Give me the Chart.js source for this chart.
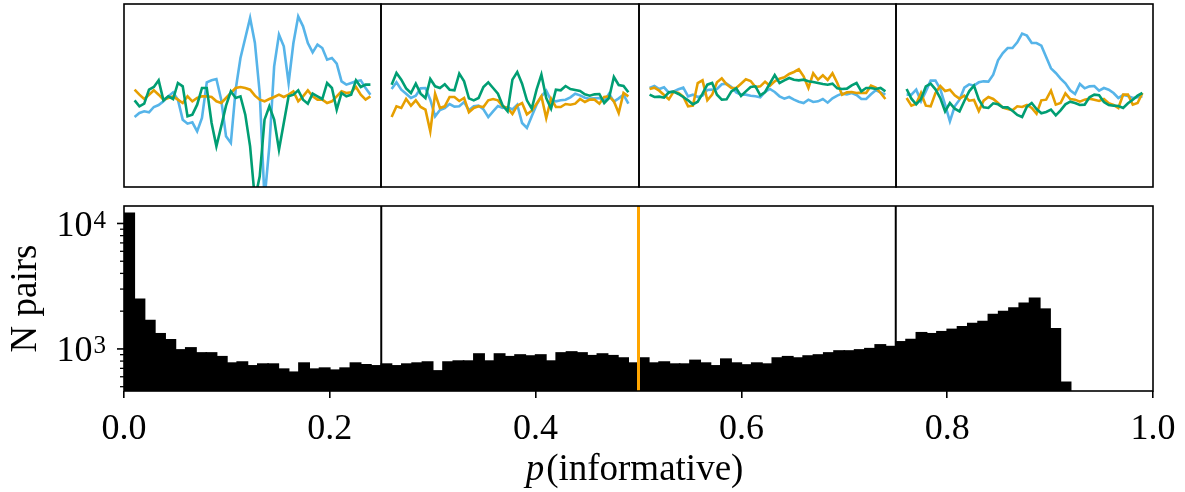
<!DOCTYPE html>
<html>
<head>
<meta charset="utf-8">
<script src="https://cdn.jsdelivr.net/npm/chart.js@4/dist/chart.umd.min.js"></script>
<style>
  html, body { margin: 0; padding: 0; background: #fff; }
  #wrap { position: relative; width: 1185px; height: 492px; overflow: hidden; background: #fff; }
  canvas { position: absolute; }
</style>
</head>
<body>
<div id="wrap">
  <canvas id="hist"></canvas>
  <canvas id="panel0"></canvas>
  <canvas id="panel1"></canvas>
  <canvas id="panel2"></canvas>
  <canvas id="panel3"></canvas>
</div>
<script>
// ---- histogram of p(informative): 0.01-wide bins starting at 0 ----
const binWidth = 0.01;
const pairCounts = [
  12030, 2485, 1683, 1321, 1182, 982, 1019, 929, 929, 867,
  771, 786, 733, 757, 757, 690, 652, 771, 690, 703,
  677, 703, 771, 747, 733, 757, 733, 757, 771, 786,
  668, 786, 800, 800, 911, 800, 911, 867, 895, 878,
  895, 800, 929, 946, 929, 883, 911, 883, 846, 771,
  846, 771, 786, 757, 757, 810, 771, 733, 829, 771,
  745, 771, 757, 846, 867, 846, 878, 895, 929, 963,
  963, 982, 1005, 1077, 1044, 1139, 1188, 1346, 1321, 1371,
  1431, 1504, 1591, 1650, 1880, 1987, 2115, 2307, 2530, 2075,
  1450, 542
];
const xTicks = [0, 0.2, 0.4, 0.6, 0.8, 1.0];
const yMajorTicks = [1000, 10000];
const yMinorTicks = [500, 600, 700, 800, 900, 2000, 3000, 4000, 5000, 6000, 7000, 8000, 9000];
const panelEdges = [0, 0.25, 0.5, 0.75, 1.0];
const thresholdMarks = [0.25, 0.75];
const midMark = 0.5;

// ---- mean traces for each quarter of p(informative), one sample per step ----
const q1Blue   = [-62,-50,-45,-48,-32,-26,-15,0,12,-10,-70,-82,-78,-105,-65,42,48,52,-10,-120,-140,20,115,175,235,160,10,-310,-150,90,185,150,40,160,240,210,160,132,155,145,110,115,98,45,35,40,45,48,25,5];
const q1Orange = [20,5,-8,5,18,5,-10,-5,0,-10,-20,0,-15,-5,0,0,-2,-15,-20,-5,10,25,28,25,20,2,-10,-15,-8,-2,5,-2,5,15,-15,0,18,0,-10,-10,-20,-15,0,15,10,12,28,5,-10,0];
const q1Green  = [-12,-30,-22,20,28,48,-12,0,-8,40,30,-60,-55,-25,25,25,-80,-150,-90,-28,15,-5,0,-55,-150,-310,-240,-70,-30,-70,-160,-80,0,5,18,-10,-22,8,0,-8,40,25,-40,10,0,5,48,28,35,35];

const q2Blue   = [22,42,20,8,-5,2,24,25,-10,-60,-41,-35,-23,-31,-30,-17,-42,-30,-28,-39,-62,-45,-29,-35,-32,-39,-25,-80,-95,-60,-25,0,17,-12,-15,-12,-10,-3,8,3,-4,-7,-6,-5,-15,8,-16,-6,5,-22];
const q2Orange = [-62,-30,-35,-8,-28,-12,-32,-40,-105,8,-35,-30,-2,-2,-14,-5,-48,-35,-30,-32,-12,-8,-12,-30,-35,-53,-28,-20,-54,-43,-22,0,-65,-7,-32,-32,-23,-25,-22,-8,-17,-10,-10,-22,-2,0,-15,-50,10,0];
const q2Green  = [35,70,50,24,10,38,8,-5,52,30,25,36,20,18,68,45,-6,-12,-5,28,42,25,8,-28,-45,50,73,38,-12,-37,20,65,-5,-37,20,18,31,22,19,16,6,2,6,7,-20,-5,58,34,31,12];

const q3Blue   = [25,31,22,27,11,15,21,26,0,5,-2,2,19,20,22,36,38,28,12,5,5,2,0,-3,13,22,13,0,-7,-2,-10,-16,-20,-10,-17,-15,-8,-19,-6,2,8,6,10,4,-8,-8,6,18,12,5];
const q3Orange = [22,26,17,4,-9,14,10,-1,-30,-28,40,48,-12,5,42,54,36,25,25,38,51,46,28,30,44,32,45,53,57,67,73,81,60,25,69,50,63,49,69,40,5,12,13,10,11,10,32,26,10,-8];
const q3Green  = [5,-2,-1,-4,12,14,7,-2,-12,-24,-16,8,35,40,5,-10,-9,15,24,1,15,28,30,3,13,39,64,40,48,55,50,48,50,45,43,40,37,35,38,24,22,23,33,40,15,25,25,22,25,15];

const q4Blue   = [5,5,20,-15,15,47,47,22,-25,-75,-30,-10,26,36,32,42,45,44,65,108,130,145,145,162,188,182,160,160,152,118,84,70,53,39,18,7,37,24,30,31,17,25,20,10,-5,4,1,-5,-3,0];
const q4Orange = [-5,-28,-22,10,-28,-30,10,31,16,20,3,-7,2,-13,-11,-44,-13,-2,-8,-20,-34,-38,-42,-30,-32,-26,-35,-52,-12,-10,17,-25,-20,9,-8,-10,-16,-10,-7,-10,-14,-8,-21,-26,-35,5,5,-25,-20,10];
const q4Green  = [22,-7,-24,-8,30,38,21,-5,-45,-20,-37,-45,-14,15,32,-9,-33,-35,-21,-24,-33,-33,-43,-56,-62,-31,-20,-38,-51,-47,-40,-57,-42,-24,-16,-20,-26,-25,-3,5,3,-17,-26,-28,-29,-35,-21,-10,2,10];

const quarterTraces = [
  [q1Blue, q1Orange, q1Green],
  [q2Blue, q2Orange, q2Green],
  [q3Blue, q3Orange, q3Green],
  [q4Blue, q4Orange, q4Green]
];

// ---- styling ----
const SERIF = "'Liberation Serif', 'DejaVu Serif', serif";
const BLUE = '#56B4E9', ORANGE = '#E69F00', GREEN = '#009E73';
const MARK_ORANGE = '#FFA500';
const W = 1185, H = 492;
const HIST_TOP = 195;           // canvas offset of the histogram
const PANEL_TOP = 4, PANEL_BOTTOM = 187;

function strokeFrame(ctx, a, lw) {
  ctx.save();
  ctx.strokeStyle = '#000';
  ctx.lineWidth = lw;
  ctx.strokeRect(a.left, a.top, a.right - a.left, a.bottom - a.top);
  ctx.restore();
}

const histDecor = {
  id: 'histDecor',
  afterDatasetsDraw(chart) {
    const { ctx, chartArea: a, scales: { x, y } } = chart;
    ctx.save();
    // quarter boundaries
    ctx.strokeStyle = '#000';
    ctx.lineWidth = 2;
    thresholdMarks.forEach(v => {
      const px = x.getPixelForValue(v);
      ctx.beginPath(); ctx.moveTo(px, a.top); ctx.lineTo(px, a.bottom); ctx.stroke();
    });
    // midpoint marker
    ctx.strokeStyle = MARK_ORANGE;
    ctx.lineWidth = 3;
    const mx = x.getPixelForValue(midMark);
    ctx.beginPath(); ctx.moveTo(mx, a.top); ctx.lineTo(mx, a.bottom); ctx.stroke();
    ctx.restore();

    strokeFrame(ctx, a, 1.6);

    // log-axis ticks
    ctx.save();
    ctx.strokeStyle = '#000';
    ctx.lineWidth = 1.3;
    yMinorTicks.forEach(v => {
      const py = y.getPixelForValue(v);
      ctx.beginPath(); ctx.moveTo(a.left - 4, py); ctx.lineTo(a.left, py); ctx.stroke();
    });
    ctx.lineWidth = 1.6;
    yMajorTicks.forEach(v => {
      const py = y.getPixelForValue(v);
      ctx.beginPath(); ctx.moveTo(a.left - 7, py); ctx.lineTo(a.left, py); ctx.stroke();
    });
    // labels 10^n
    ctx.fillStyle = '#000';
    ctx.textAlign = 'right';
    ctx.textBaseline = 'alphabetic';
    const right = a.left - 18;
    yMajorTicks.forEach(v => {
      const py = y.getPixelForValue(v);
      const exp = String(Math.round(Math.log10(v)));
      ctx.font = `25px ${SERIF}`;
      const ew = ctx.measureText(exp).width;
      ctx.fillText(exp, right, py + 4.5);
      ctx.font = `36px ${SERIF}`;
      ctx.fillText('10', right - ew - 1, py + 12.5);
    });

    // axis titles
    ctx.font = `37px ${SERIF}`;
    ctx.save();
    ctx.translate(36, (a.top + a.bottom) / 2);
    ctx.rotate(-Math.PI / 2);
    ctx.textAlign = 'center';
    ctx.fillText('N pairs', 0, 0);
    ctx.restore();

    const italicFont = `italic 37px ${SERIF}`;
    const uprightFont = `37px ${SERIF}`;
    ctx.font = italicFont; const w1 = ctx.measureText('p').width;
    ctx.font = uprightFont; const w2 = ctx.measureText('(informative)').width;
    const cx = (a.left + a.right) / 2 - 4;
    const start = cx - (w1 + w2 + 2) / 2;
    const base = 480 - HIST_TOP;
    ctx.textAlign = 'left';
    ctx.font = italicFont; ctx.fillText('p', start, base);
    ctx.font = uprightFont; ctx.fillText('(informative)', start + w1 + 2, base);
    ctx.restore();
  }
};

const histCanvas = document.getElementById('hist');
histCanvas.width = W; histCanvas.height = H - HIST_TOP;
histCanvas.style.left = '0px'; histCanvas.style.top = HIST_TOP + 'px';
histCanvas.style.width = W + 'px'; histCanvas.style.height = (H - HIST_TOP) + 'px';

const histChart = new Chart(histCanvas, {
  type: 'bar',
  data: {
    datasets: [{
      data: pairCounts.map((c, i) => ({ x: (i + 0.5) * binWidth, y: c })),
      backgroundColor: '#000',
      borderWidth: 0,
      inflateAmount: 0.8,
      barPercentage: 1,
      categoryPercentage: 1
    }]
  },
  options: {
    responsive: false,
    animation: false,
    devicePixelRatio: 1,
    layout: { padding: { left: 0, right: 32, top: 206 - HIST_TOP, bottom: 0 } },
    plugins: { legend: { display: false }, tooltip: { enabled: false } },
    scales: {
      x: {
        type: 'linear',
        min: 0, max: 1,
        offset: false,
        afterBuildTicks: s => { s.ticks = xTicks.map(v => ({ value: v })); },
        afterFit: s => { s.height = H - 391; s.paddingLeft = 0; s.paddingRight = 0; },
        ticks: {
          color: '#000',
          font: { family: SERIF, size: 36 },
          padding: 10,
          maxRotation: 0,
          autoSkip: false,
          callback: v => Number(v).toFixed(1)
        },
        grid: { offset: false, drawOnChartArea: false, drawTicks: true, tickLength: 7, color: '#000', lineWidth: 1.6 },
        border: { display: false }
      },
      y: {
        type: 'logarithmic',
        min: 462, max: 13780,
        afterFit: s => { s.width = 124; },
        ticks: { display: false },
        grid: { display: false },
        border: { display: false }
      }
    }
  },
  plugins: [histDecor]
});

// ---- the four trace panels above the histogram ----
const panelFrame = {
  id: 'panelFrame',
  afterDatasetsDraw(chart) { strokeFrame(chart.ctx, chart.chartArea, 1.6); }
};

const xs = histChart.scales.x;
const pad = 4;
for (let k = 0; k < 4; k++) {
  const left = Math.round(xs.getPixelForValue(panelEdges[k]));
  const right = Math.round(xs.getPixelForValue(panelEdges[k + 1]));
  const cv = document.getElementById('panel' + k);
  const cw = right - left + 2 * pad, ch = PANEL_BOTTOM + pad;
  cv.width = cw; cv.height = ch;
  cv.style.left = (left - pad) + 'px'; cv.style.top = '0px';
  cv.style.width = cw + 'px'; cv.style.height = ch + 'px';
  const [blue, orange, green] = quarterTraces[k];
  const series = [
    { values: green, color: GREEN },
    { values: orange, color: ORANGE },
    { values: blue, color: BLUE }
  ];
  new Chart(cv, {
    type: 'line',
    data: {
      datasets: series.map(s => ({
        data: s.values.map((v, i) => ({ x: i, y: v })),
        borderColor: s.color,
        borderWidth: 2.6,
        pointRadius: 0,
        tension: 0,
        fill: false
      }))
    },
    options: {
      responsive: false,
      animation: false,
      devicePixelRatio: 1,
      layout: { padding: { left: pad, right: pad, top: PANEL_TOP, bottom: pad } },
      plugins: { legend: { display: false }, tooltip: { enabled: false } },
      scales: {
        x: { type: 'linear', min: -2.2, max: 51.2, display: false },
        y: { type: 'linear', min: -272, max: 277, display: false }
      }
    },
    plugins: [panelFrame]
  });
}
</script>
</body>
</html>
